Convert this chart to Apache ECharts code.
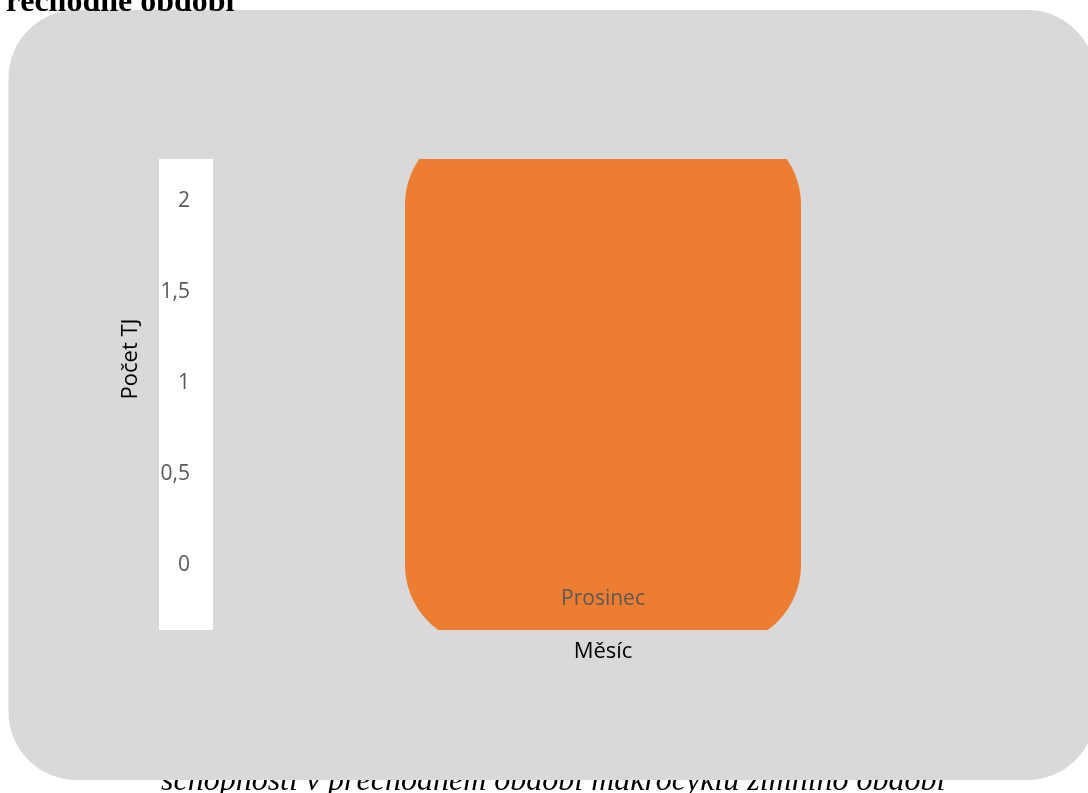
<!DOCTYPE html>
<html>
<head>
<meta charset="utf-8">
<title>Počet TJ – Prosinec</title>
<script src="https://cdn.jsdelivr.net/npm/echarts@6/dist/echarts.min.js"></script>
<style>
html, body { margin: 0; padding: 0; background: #fff; }
#chart { width: 1088px; height: 793px; }
</style>
</head>
<body>
<div id="chart"></div>
<script>
// data
var months = ['Prosinec'];
var barTop = [2.42];
var barBottom = [-0.44];
var yMin = -0.357;
var yMax = 2.231;

var chart = echarts.init(document.getElementById('chart'));

var barData = months.map(function (m, i) {
  return [i, barTop[i], barBottom[i]];
});

var option = {
  animation: false,
  backgroundColor: '#ffffff',
  textStyle: { fontFamily: 'Open Sans' },
  graphic: [
    {
      type: 'text', x: 161, y: 782, z: -30,
      style: {
        text: 'schopnosti v přechodném období makrocyklu zimního období',
        font: 'italic 32px "Liberation Serif"', fill: '#000',
        align: 'left', verticalAlign: 'middle'
      }
    },
    {
      type: 'rect', z: -20,
      shape: { x: 8.5, y: 10, width: 1087, height: 770, r: 68 },
      style: { fill: '#d9d9d9' }
    },
    {
      type: 'rect', z: -10,
      shape: { x: 159, y: 159, width: 54, height: 471 },
      style: { fill: '#ffffff' }
    },
    {
      type: 'text', x: 6, y: 3, z: -5,
      style: {
        text: 'řechodné období',
        font: 'bold 32px "Liberation Serif"', fill: '#000',
        align: 'left', verticalAlign: 'middle'
      }
    },
    {
      type: 'text', x: 131, y: 359, rotation: Math.PI / 2,
      style: {
        text: 'Počet TJ',
        font: '22px "Open Sans"', fill: '#000',
        align: 'center', verticalAlign: 'middle'
      }
    }
  ],
  grid: {
    left: 213, right: 95, top: 159, bottom: 163,
    containLabel: false, outerBoundsMode: 'none'
  },
  xAxis: {
    type: 'category',
    data: months,
    z: 10,
    axisLine: { show: false },
    axisTick: { show: false },
    axisLabel: { margin: -41, color: '#595959', fontSize: 21 },
    name: 'Měsíc',
    nameLocation: 'middle',
    nameGap: 11,
    nameTextStyle: { color: '#000', fontSize: 22 }
  },
  yAxis: {
    type: 'value',
    min: yMin,
    max: yMax,
    splitLine: { show: false },
    axisLine: { show: false },
    axisTick: { show: false },
    axisLabel: {
      margin: 23, color: '#595959', fontSize: 21,
      padding: [4, 0, 0, 0],
      showMinLabel: false, showMaxLabel: false,
      formatter: function (v) {
        if (Math.abs(v * 2 - Math.round(v * 2)) > 1e-6) return '';
        return String(v).replace('.', ',');
      }
    }
  },
  series: [
    {
      type: 'custom',
      clip: true,
      encode: { x: 0, y: [1, 2] },
      data: barData,
      renderItem: function (params, api) {
        var top = api.coord([api.value(0), api.value(1)]);
        var bottom = api.coord([api.value(0), api.value(2)]);
        var w = 396;
        return {
          type: 'rect',
          shape: { x: top[0] - w / 2, y: top[1], width: w, height: bottom[1] - top[1], r: 80 },
          style: { fill: '#ed7d31' }
        };
      }
    }
  ]
};

chart.setOption(option);
</script>
</body>
</html>
